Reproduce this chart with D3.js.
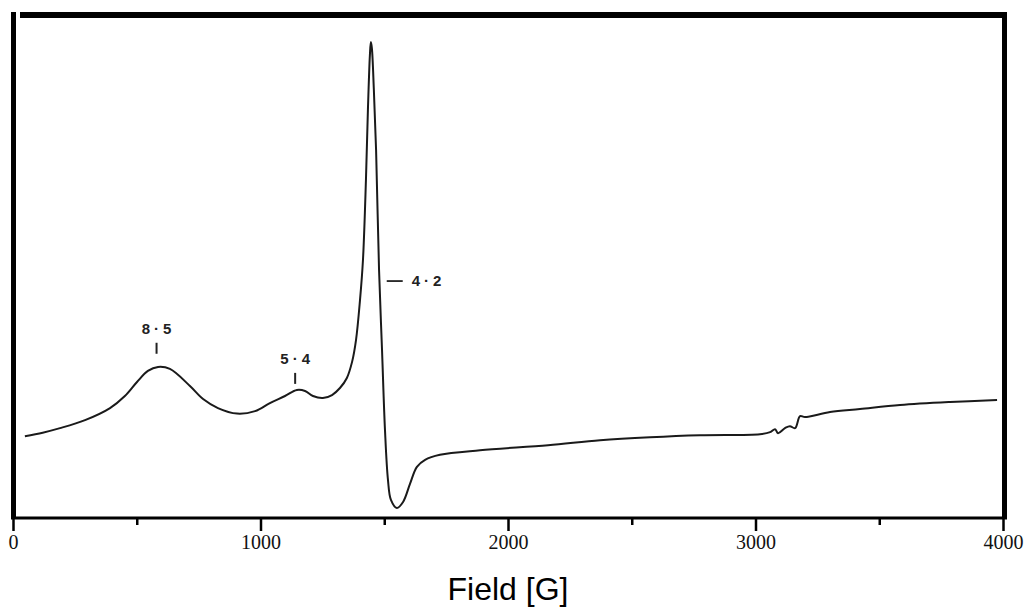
<!DOCTYPE html>
<html>
<head>
<meta charset="utf-8">
<script src="https://cdn.jsdelivr.net/npm/d3@7"></script>
<style>
  body { margin: 0; background: #fff; }
  svg { display: block; }
</style>
</head>
<body>
<div id="main-container"></div>
<script>
// EPR spectrum (field in G, signal in arbitrary units)
const FIELD = [48, 120, 190, 291, 392, 452, 501, 545, 586, 634, 715, 768, 828, 905, 978,
  1038, 1099, 1147, 1180, 1212, 1252, 1289, 1321, 1349, 1370, 1386, 1402, 1414,
  1426, 1434, 1442, 1446, 1450, 1458, 1467, 1479, 1491, 1503, 1515, 1527, 1551,
  1576, 1604, 1632, 1665, 1725, 1887, 2162, 2372, 2574, 2776, 3018, 3059, 3079,
  3091, 3119, 3139, 3160, 3180, 3200, 3301, 3422, 3584, 3786, 3976];
const SIGNAL = [16.1, 16.8, 17.7, 19.3, 21.7, 24.1, 26.9, 29.1, 29.9, 29.5, 26.1, 23.5, 21.7, 20.6, 21.1,
  22.7, 24.1, 25.3, 25.1, 24.1, 23.7, 24.3, 25.7, 27.7, 30.9, 35.3, 43.2, 51.2,
  67.1, 81.1, 92.0, 94.6, 93.4, 85.1, 73.1, 49.2, 33.3, 17.3, 7.4, 3.4, 1.8,
  3.0, 6.6, 10.0, 11.4, 12.4, 13.3, 14.3, 15.3, 15.9, 16.3, 16.5, 16.9, 17.5,
  16.7, 17.7, 18.1, 17.7, 20.1, 19.9, 20.9, 21.5, 22.3, 22.9, 23.3];

const MAJOR_TICKS = [0, 1000, 2000, 3000, 4000];
const MINOR_TICKS = [500, 1500, 2500, 3500];

// g-value labels: text, field where they sit, signal level of the text
const G_LABELS = ['8·5', '5·4', '4·2'];
const G_FIELD = [580, 1140, 1510];
const G_LEVEL = [36.5, 30.5, 47];

const X_TITLE = 'Field [G]';

const WIDTH = 1034;
const HEIGHT = 607;

const svg = d3.select('#main-container').append('svg')
  .attr('width', WIDTH)
  .attr('height', HEIGHT);

const x = d3.scaleLinear().domain([0, 4000]).range([13, 1003]);
const y = d3.scaleLinear().domain([0, 100]).range([517, 15]);

const AXIS_Y = 518;

// frame
const frame = svg.append('g').attr('stroke', '#000');
frame.append('line') // left
  .attr('x1', 13.5).attr('x2', 13.5).attr('y1', 12).attr('y2', 519)
  .attr('stroke-width', 5);
frame.append('line') // top
  .attr('x1', 20).attr('x2', 1007).attr('y1', 15).attr('y2', 15)
  .attr('stroke-width', 6);
frame.append('line') // right
  .attr('x1', 1004.5).attr('x2', 1004.5).attr('y1', 12).attr('y2', 519)
  .attr('stroke-width', 5);
frame.append('line') // bottom axis line
  .attr('x1', 11).attr('x2', 1007).attr('y1', AXIS_Y).attr('y2', AXIS_Y)
  .attr('stroke-width', 3);

// axis
const majorAxis = d3.axisBottom(x)
  .tickValues(MAJOR_TICKS)
  .tickSize(13)
  .tickPadding(4)
  .tickFormat(d3.format('d'));

const gMajor = svg.append('g')
  .attr('transform', `translate(0, ${AXIS_Y})`)
  .call(majorAxis)
  .attr('font-family', '"Liberation Serif", "DejaVu Serif", serif')
  .attr('font-size', 20);
gMajor.select('.domain').remove();
gMajor.selectAll('line').attr('stroke', '#000').attr('stroke-width', 2.5);
gMajor.selectAll('text').attr('fill', '#111');

const gMinor = svg.append('g')
  .attr('transform', `translate(0, ${AXIS_Y})`)
  .call(d3.axisBottom(x).tickValues(MINOR_TICKS).tickSize(7).tickFormat(''));
gMinor.select('.domain').remove();
gMinor.selectAll('line').attr('stroke', '#000').attr('stroke-width', 2.5);

// x title
svg.append('text')
  .attr('x', (x(0) + x(4000)) / 2)
  .attr('y', 600)
  .attr('text-anchor', 'middle')
  .style('font-family', '"Liberation Sans", Arial, sans-serif')
  .style('font-size', '32px')
  .attr('fill', '#000')
  .text(X_TITLE);

// spectrum
const points = FIELD.map((f, i) => [f, SIGNAL[i]]);
const line = d3.line()
  .x(d => x(d[0]))
  .y(d => y(d[1]))
  .curve(d3.curveCatmullRom.alpha(0.5));

svg.append('path')
  .datum(points)
  .attr('d', line)
  .attr('fill', 'none')
  .attr('stroke', '#1a1a1a')
  .attr('stroke-width', 2)
  .attr('stroke-linejoin', 'round');

// g-value annotations
const labelFont = '"Liberation Sans", Arial, sans-serif';
G_LABELS.forEach((lab, i) => {
  const lx = x(G_FIELD[i]);
  const ly = y(G_LEVEL[i]);
  if (i < 2) {
    svg.append('text')
      .attr('x', lx + 2)
      .attr('y', ly)
      .attr('text-anchor', 'middle')
      .style('font-family', labelFont)
      .style('font-size', '15px')
      .style('font-weight', 'bold')
      .style('letter-spacing', '4px')
      .attr('fill', '#222')
      .text(lab);
    svg.append('line')
      .attr('x1', lx).attr('x2', lx)
      .attr('y1', ly + 9).attr('y2', ly + 20)
      .attr('stroke', '#222')
      .attr('stroke-width', 2);
  } else {
    svg.append('line')
      .attr('x1', lx).attr('x2', lx + 16)
      .attr('y1', ly).attr('y2', ly)
      .attr('stroke', '#222')
      .attr('stroke-width', 1.8);
    svg.append('text')
      .attr('x', lx + 25)
      .attr('y', ly + 5)
      .style('font-family', labelFont)
      .style('font-size', '15px')
      .style('font-weight', 'bold')
      .style('letter-spacing', '4px')
      .attr('fill', '#222')
      .text(lab);
  }
});
</script>
</body>
</html>
